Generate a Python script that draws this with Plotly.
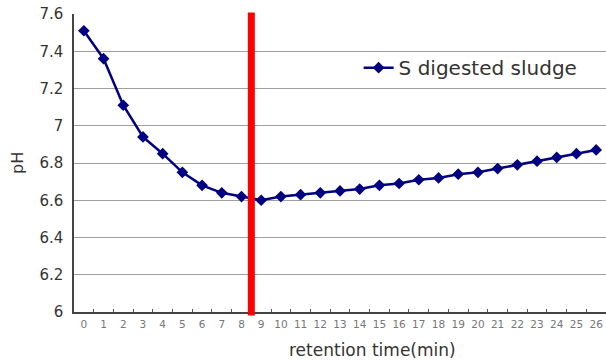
import plotly.graph_objects as go

times = [str(i) for i in range(27)]
ph = [7.51, 7.36, 7.11, 6.94, 6.85, 6.75, 6.68, 6.64, 6.62, 6.60, 6.62, 6.63, 6.64,
      6.65, 6.66, 6.68, 6.69, 6.71, 6.72, 6.74, 6.75, 6.77, 6.79, 6.81, 6.83, 6.85, 6.87]
series_name = "S digested sludge"
cutoff_x = 8.5
y_ticks = [6, 6.2, 6.4, 6.6, 6.8, 7, 7.2, 7.4, 7.6]
y_ticktext = ["6", "6.2", "6.4", "6.6", "6.8", "7", "7.2", "7.4", "7.6"]

fig = go.Figure()
fig.add_trace(go.Scatter(
    x=times, y=ph, name=series_name, mode="lines+markers",
    line=dict(color="#000080", width=2.5),
    marker=dict(symbol="diamond", size=9, color="#000080"),
))

fig.add_shape(type="line", xref="x", yref="paper", x0=cutoff_x, x1=cutoff_x,
              y0=-0.012, y1=1.005, line=dict(color="#ff0000", width=7), layer="above")

fig.add_annotation(text="retention time(min)", xref="paper", yref="paper",
                   x=(372 - 74) / 532, y=-38 / 298, xanchor="center", yanchor="middle",
                   showarrow=False, font=dict(size=17, color="#333333"))
fig.add_annotation(text="pH", xref="paper", yref="paper",
                   x=(17 - 74) / 532, y=(312 - 163) / 298, xanchor="center", yanchor="middle",
                   textangle=-90, showarrow=False, font=dict(size=16, color="#333333"))

fig.update_layout(
    width=606, height=361,
    margin=dict(l=74, r=0, t=14, b=49),
    paper_bgcolor="white", plot_bgcolor="white",
    font=dict(family="DejaVu Sans", color="#333333"),
    showlegend=True,
    legend=dict(x=0.535, y=0.82, xanchor="left", yanchor="middle",
                font=dict(size=20, color="#333333"), bgcolor="rgba(0,0,0,0)",
                itemwidth=30),
    xaxis=dict(
        type="category", range=[-0.5, 26.5],
        tickson="boundaries", ticks="inside", ticklen=3, tickcolor="#555555",
        tickangle=0, ticklabelstandoff=2,
        showline=True, linecolor="#444444", linewidth=1.5,
        showgrid=False,
        tickfont=dict(size=10.5, color="#777777"),
    ),
    yaxis=dict(
        range=[6, 7.6], tickvals=y_ticks, ticktext=y_ticktext,
        ticks="", ticklabelstandoff=6,
        showline=True, linecolor="#444444", linewidth=1.5,
        showgrid=True, gridcolor="#a0a0a0", gridwidth=1,
        zeroline=False,
        tickfont=dict(size=15, color="#333333"),
    ),
)

fig.write_html("out.html")
